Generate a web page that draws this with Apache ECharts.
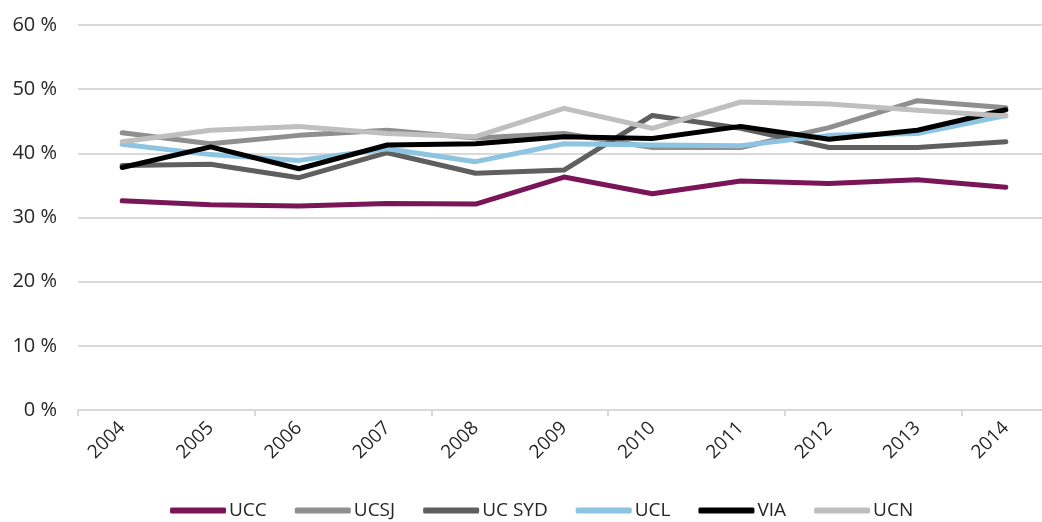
<!DOCTYPE html>
<html>
<head>
<meta charset="utf-8">
<script src="https://cdn.jsdelivr.net/npm/echarts@6/dist/echarts.min.js"></script>
<style>html,body{margin:0;padding:0;background:#fff;overflow:hidden;}#c{width:1060px;height:522px;}</style>
</head>
<body>
<div id="c"></div>
<script>
const years = ['2004','2005','2006','2007','2008','2009','2010','2011','2012','2013','2014'];
const yTicks = [0, 10, 20, 30, 40, 50, 60];
const seriesNames = ['UCC','UCSJ','UC SYD','UCL','VIA','UCN'];
const UCC   = [32.6, 32.0, 31.8, 32.2, 32.1, 36.3, 33.7, 35.7, 35.3, 35.9, 34.7];
const UCSJ  = [43.2, 41.5, 42.8, 43.6, 42.4, 43.1, 40.9, 40.9, 44.0, 48.2, 47.1];
const UCSYD = [38.1, 38.3, 36.2, 40.1, 36.9, 37.4, 45.9, 43.9, 40.9, 40.9, 41.8];
const UCL   = [41.4, 39.8, 38.9, 40.7, 38.7, 41.5, 41.3, 41.2, 42.8, 43.1, 45.9];
const VIA   = [37.8, 41.0, 37.6, 41.3, 41.5, 42.6, 42.3, 44.2, 42.2, 43.6, 46.8];
const UCN   = [41.8, 43.6, 44.2, 43.1, 42.6, 47.0, 43.9, 48.0, 47.7, 46.7, 45.8];

const colors = ['#7a1657', '#8f8f8f', '#5f5f5f', '#8cc4e2', '#000000', '#bfbfbf'];
const values = [UCC, UCSJ, UCSYD, UCL, VIA, UCN];
const font = '"Open Sans", "Noto Sans", sans-serif';

const chart = echarts.init(document.getElementById('c'), null, {renderer:'canvas'});
chart.setOption({
  animation: false,
  backgroundColor: '#ffffff',
  color: colors,
  grid: {left: 78, top: 25, width: 972, height: 385, containLabel: false},
  xAxis: {
    type: 'category',
    data: years,
    boundaryGap: true,
    axisLine: {show: true, lineStyle: {color: '#d9d9d9', width: 2}},
    axisTick: {show: true, interval: 1, length: 6, lineStyle: {color: '#d9d9d9', width: 2}},
    axisLabel: {interval: 0, rotate: 45, margin: 15, color: '#262626', fontSize: 19, fontFamily: font},
    splitLine: {show: false}
  },
  yAxis: {
    type: 'value',
    min: yTicks[0],
    max: yTicks[yTicks.length - 1],
    interval: 10,
    axisLine: {show: false},
    axisTick: {show: false},
    axisLabel: {formatter: '{value} %', margin: 21, color: '#262626', fontSize: 20, fontFamily: font},
    splitLine: {lineStyle: {color: '#d9d9d9', width: 2}}
  },
  legend: {
    top: 496,
    left: 165,
    icon: 'roundRect',
    itemWidth: 56,
    itemHeight: 6,
    itemGap: 28,
    textStyle: {color: '#262626', fontSize: 19, fontFamily: font, padding: [0, 0, 0, -2]},
    data: seriesNames
  },
  series: seriesNames.map((n, i) => ({
    name: n,
    type: 'line',
    data: values[i],
    symbol: 'none',
    lineStyle: {width: 5, color: colors[i], cap: 'round', join: 'round'},
    itemStyle: {color: colors[i]}
  }))
});
</script>
</body>
</html>
